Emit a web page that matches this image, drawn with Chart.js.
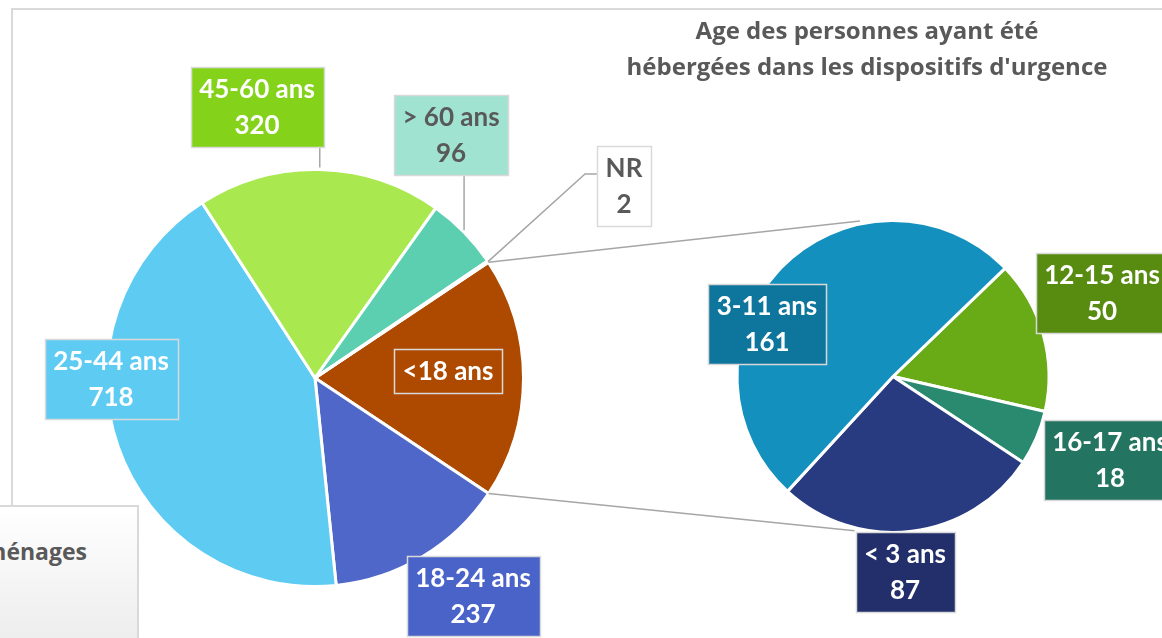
<!DOCTYPE html>
<html>
<head>
<meta charset="utf-8">
<script src="https://cdn.jsdelivr.net/npm/chart.js@4/dist/chart.umd.min.js"></script>
<style>
    body { margin: 0; background: #fff; width: 1162px; height: 638px; overflow: hidden; position: relative; }
    canvas { position: absolute; left: 0; top: 0; }
    #cadre { position: absolute; left: 11px; top: 8px; width: 1300px; height: 800px; border: 2px solid #d9d9d9; }
    #legende { position: absolute; left: -3px; top: 505px; width: 138px; height: 200px;
        border: 2px solid #d9d9d9; background: linear-gradient(#ffffff, #e4e4e4);
        font: bold 23px "Open Sans", sans-serif; color: #595959; }
    #legende span { position: absolute; right: 50px; top: 28px; white-space: nowrap; }
</style>
</head>
<body>
<div id="cadre"></div>
<canvas id="pieAges" width="1162" height="638"></canvas>
<canvas id="pieMineurs" width="1162" height="638"></canvas>
<div id="legende"><span>ménages</span></div>
<script>
// pie principal : age des personnes
var ages = ['<18 ans', '18-24 ans', '25-44 ans', '45-60 ans', '> 60 ans', 'NR'];
var agesNb = [316, 237, 718, 320, 96, 2];
var agesCouleurs = ['#ae4a00', '#4f67c9', '#5ecbf3', '#a9e94f', '#5dcfb1', '#bfbfbf'];
var agesEtiquettes = ['#ae4a00', '#4a63c8', '#5ecbf3', '#84d31a', '#a0e3d0', '#ffffff'];
var agesTexte = ['#fff', '#fff', '#fff', '#fff', '#595959', '#595959'];
var agesAvecNombre = [false, true, true, true, true, true];

// second pie : detail des mineurs
var mineurs = ['12-15 ans', '16-17 ans', '< 3 ans', '3-11 ans'];
var mineursNb = [50, 18, 87, 161];
var mineursCouleurs = ['#69aa17', '#2a8a70', '#283a80', '#1390bd'];
var mineursEtiquettes = ['#588c10', '#237460', '#232f6a', '#0e769c'];

var titre = ["Age des personnes ayant été", "hébergées dans les dispositifs d'urgence"];

// positions des etiquettes (centre des cadres)
var posAges = [[448, 371], [473, 596], [111, 379], [257, 107], [451, 135], [624, 186]];
var posMineurs = [[1102, 293], [1110, 460], [905, 572], [767, 324]];

var police = 'bold 26px Lato, sans-serif';
var gris = '#a6a6a6';

function dessineEtiquette(ctx, lignes, cx, cy, fond, couleur) {
    ctx.font = police;
    var w = 0;
    lignes.forEach(function(l) { w = Math.max(w, ctx.measureText(l).width); });
    w = Math.round(w + 17);
    var h = lignes.length * 36 + 8;
    var x = Math.round(cx - w / 2), y = Math.round(cy - h / 2);
    ctx.fillStyle = fond;
    ctx.fillRect(x, y, w, h);
    ctx.strokeStyle = '#d9d9d9';
    ctx.lineWidth = 1.5;
    ctx.strokeRect(x + 0.5, y + 0.5, w, h);
    ctx.fillStyle = couleur;
    ctx.textAlign = 'center';
    ctx.textBaseline = 'middle';
    lignes.forEach(function(l, i) {
        ctx.fillText(l, cx, y + 4 + 18 + i * 36 + 1);
    });
    return {x: x, y: y, w: w, h: h};
}

function pointArc(arc, angle, r) {
    return [arc.x + Math.cos(angle) * r, arc.y + Math.sin(angle) * r];
}

var chartAges = new Chart(document.getElementById('pieAges'), {
    type: 'pie',
    data: {
        labels: ages,
        datasets: [{
            data: agesNb,
            backgroundColor: agesCouleurs,
            borderColor: '#ffffff',
            borderWidth: 3
        }]
    },
    options: {
        responsive: false,
        animation: false,
        events: [],
        rotation: 56.3,
        layout: { padding: { left: 105, right: 637, top: 168, bottom: 50 } },
        plugins: { legend: { display: false }, tooltip: { enabled: false } }
    }
});

var habillage = {
    id: 'habillage',
    afterDraw: function(chart) {
        var ctx = chart.ctx;
        var arcsA = chartAges.getDatasetMeta(0).data;
        var arcsM = chart.getDatasetMeta(0).data;
        ctx.save();

        // lignes de liaison entre les deux pies
        var a0 = arcsA[0], m0 = arcsM[0];
        var haut1 = pointArc(a0, a0.startAngle, a0.outerRadius);
        var bas1 = pointArc(a0, a0.endAngle, a0.outerRadius);
        var haut2 = pointArc(m0, -102 * Math.PI / 180, m0.outerRadius + 3);
        var bas2 = pointArc(m0, 104 * Math.PI / 180, m0.outerRadius + 3);
        ctx.strokeStyle = gris;
        ctx.lineWidth = 1.5;
        ctx.beginPath();
        ctx.moveTo(haut1[0], haut1[1]); ctx.lineTo(haut2[0], haut2[1]);
        ctx.moveTo(bas1[0], bas1[1]); ctx.lineTo(bas2[0], bas2[1]);
        ctx.stroke();

        // etiquettes du pie principal
        ages.forEach(function(nom, i) {
            var lignes = agesAvecNombre[i] ? [nom, String(agesNb[i])] : [nom];
            var p = posAges[i];
            // ligne de rappel pour les petites parts du haut
            if (i >= 3) {
                var arc = arcsA[i];
                var mid = (arc.startAngle + arc.endAngle) / 2;
                var pt = pointArc(arc, mid, arc.outerRadius);
                var h = lignes.length * 36 + 8;
                var bas = p[1] + h / 2;
                ctx.strokeStyle = gris;
                ctx.lineWidth = 1.5;
                ctx.beginPath();
                if (i == 5) {
                    var gauche = p[0] - 27;
                    ctx.moveTo(pt[0], pt[1]);
                    ctx.lineTo(gauche - 12, p[1] - 12);
                    ctx.lineTo(gauche, p[1] - 12);
                } else {
                    ctx.moveTo(pt[0], pt[1] - 2);
                    ctx.lineTo(pt[0], bas);
                }
                ctx.stroke();
            }
            dessineEtiquette(ctx, lignes, p[0], p[1], agesEtiquettes[i], agesTexte[i]);
        });

        // etiquettes du second pie
        mineurs.forEach(function(nom, i) {
            var p = posMineurs[i];
            dessineEtiquette(ctx, [nom, String(mineursNb[i])], p[0], p[1], mineursEtiquettes[i], '#fff');
        });

        // titre
        ctx.font = 'bold 24px "Open Sans", sans-serif';
        ctx.fillStyle = '#595959';
        ctx.textAlign = 'center';
        ctx.textBaseline = 'middle';
        titre.forEach(function(l, i) {
            ctx.fillText(l, 867, 32 + i * 36);
        });
        ctx.restore();
    }
};

var chartMineurs = new Chart(document.getElementById('pieMineurs'), {
    type: 'pie',
    data: {
        labels: mineurs,
        datasets: [{
            data: mineursNb,
            backgroundColor: mineursCouleurs,
            borderColor: '#ffffff',
            borderWidth: 3
        }]
    },
    options: {
        responsive: false,
        animation: false,
        events: [],
        rotation: 46,
        layout: { padding: { left: 735, right: 111, top: 219, bottom: 104 } },
        plugins: { legend: { display: false }, tooltip: { enabled: false } }
    },
    plugins: [habillage]
});
</script>
</body>
</html>
